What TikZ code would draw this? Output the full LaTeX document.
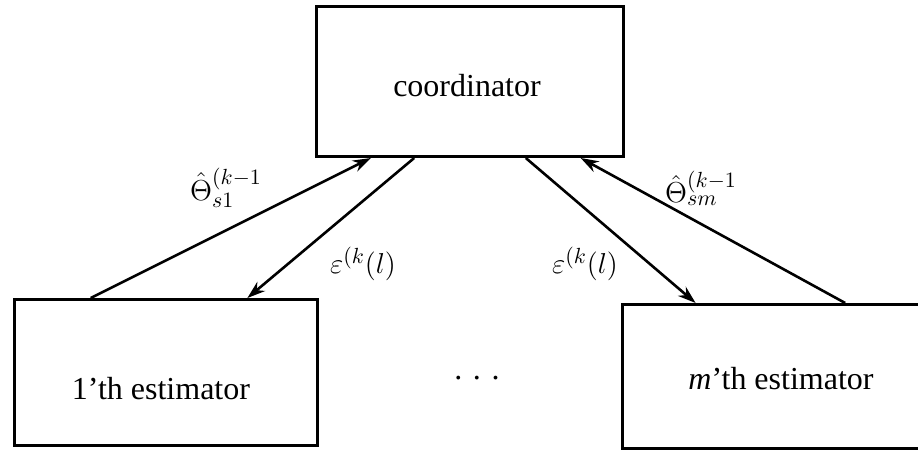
\documentclass[tikz,border=0pt]{standalone}
\usepackage{fontspec}
\setmainfont{Liberation Serif}
\usetikzlibrary{calc,arrows.meta}
\begin{document}
\begin{tikzpicture}[x=0.5pt,y=-0.5pt,
  box/.style={draw,line width=1.5pt,inner sep=0pt,anchor=north west},
  lbl/.style={font=\fontsize{16}{19}\selectfont},
  mlbl/.style={font=\fontsize{15}{18}\selectfont},
  conn/.style={line width=1.3pt,-{Stealth[length=9pt,width=6pt]}}]
\useasboundingbox (0,0) rectangle (918,450);
\node[box,minimum width=153.5pt,minimum height=75pt] (coord) at (315,5) {};
\node[box,minimum width=151.5pt,minimum height=73pt] (est1) at (13,298) {};
\node[box,minimum width=160pt,minimum height=72pt] (estm) at (621,303) {};
\node[lbl] (tc) at (467,86) {coordinator};
\node[lbl] (t1) at (161,389) {1'th estimator};
\node[lbl] (tm) at (781,379) {\textit{m}'th estimator};
\node[lbl] (dots) at (477,378) {.\,\,.\,\,.};
\coordinate (c1) at ($(coord.south west)!0.18!(coord.south east)$);
\coordinate (c2) at ($(coord.south west)!0.32!(coord.south east)$);
\coordinate (c3) at ($(coord.south west)!0.68!(coord.south east)$);
\coordinate (c4) at ($(coord.south west)!0.857!(coord.south east)$);
\coordinate (a1) at ($(est1.north west)!0.254!(est1.north east)$);
\coordinate (a2) at ($(est1.north west)!0.766!(est1.north east)$);
\coordinate (b1) at ($(estm.north west)!0.231!(estm.north east)$);
\coordinate (b2) at ($(estm.north west)!0.694!(estm.north east)$);
\draw[conn] (a1) -- (c1);
\draw[conn] (c2) -- (a2);
\draw[conn] (c3) -- (b1);
\draw[conn] (b2) -- (c4);
\node[mlbl] (l1) at (226,188) {$\hat{\Theta}^{(k-1}_{s1}$};
\node[mlbl] (l2) at (363,264) {$\varepsilon^{(k}(l)$};
\node[mlbl] (l3) at (585,264) {$\varepsilon^{(k}(l)$};
\node[mlbl] (l4) at (701,188) {$\hat{\Theta}^{(k-1}_{sm}$};
\end{tikzpicture}
\end{document}
